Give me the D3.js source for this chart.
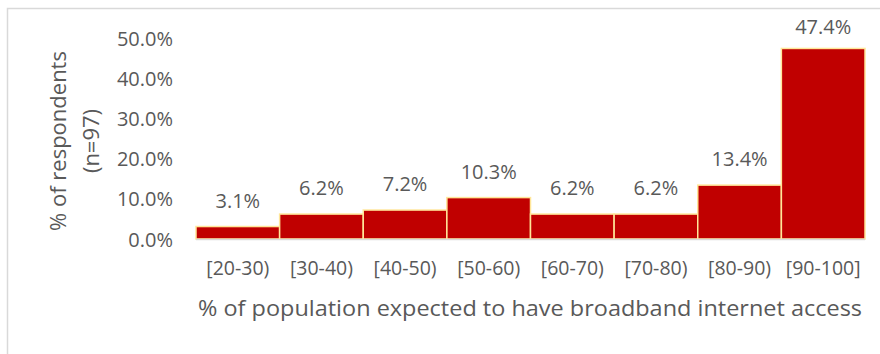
<!DOCTYPE html>
<html>
<head>
<meta charset="utf-8">
<script src="https://cdn.jsdelivr.net/npm/d3@7"></script>
<style>
  html, body { margin: 0; padding: 0; background: #fff; }
  svg { display: block; }
  text { font-family: "Open Sans", "Noto Sans", sans-serif; fill: #595959; }
</style>
</head>
<body>
<svg id="chart" width="880" height="354"></svg>
<script>
const categories = ["[20-30)", "[30-40)", "[40-50)", "[50-60)", "[60-70)", "[70-80)", "[80-90)", "[90-100]"];
const values = [3.1, 6.2, 7.2, 10.3, 6.2, 6.2, 13.4, 47.4];
const yTicks = [0, 10, 20, 30, 40, 50];
const yTitleLines = ["% of respondents", "(n=97)"];
const xTitle = "% of population expected to have broadband internet access";

const svg = d3.select("#chart");
const W = 880, H = 354;
const plot = { left: 196, right: 865, top: 38, bottom: 239 };

// chart border
svg.append("rect")
  .attr("x", 7.5).attr("y", 8.5)
  .attr("width", W + 10).attr("height", H + 10)
  .attr("fill", "none").attr("stroke", "#d9d9d9").attr("stroke-width", 1.5);

const x = d3.scaleBand().domain(categories).range([plot.left, plot.right]).padding(0);
const y = d3.scaleLinear().domain([0, 50]).range([plot.bottom, plot.top]);

// y axis tick labels
const yAxis = d3.axisLeft(y).tickValues(yTicks).tickFormat(d => d.toFixed(1) + "%").tickSize(0).tickPadding(0);
const gy = svg.append("g").attr("transform", `translate(173,0)`).call(yAxis);
gy.select(".domain").remove();
gy.selectAll("text").style("font-size", "20px").attr("fill", "#595959")
  .style("font-family", "'Open Sans', sans-serif").attr("dy", "0.35em");

// bars
svg.append("g").selectAll("rect").data(values).join("rect")
  .attr("x", (d, i) => x(categories[i]))
  .attr("y", d => y(d))
  .attr("width", x.bandwidth())
  .attr("height", d => y(0) - y(d))
  .attr("fill", "#c00000")
  .attr("stroke", "#ffe699")
  .attr("stroke-width", 1.5);

// baseline
svg.append("line")
  .attr("x1", plot.left).attr("x2", plot.right)
  .attr("y1", y(0) + 0.5).attr("y2", y(0) + 0.5)
  .attr("stroke", "#d9d9d9").attr("stroke-width", 1.5);

// data labels
svg.append("g").selectAll("text").data(values).join("text")
  .attr("x", (d, i) => x(categories[i]) + x.bandwidth() / 2)
  .attr("y", d => Math.max(y(d) - 19, 34))
  .attr("text-anchor", "middle")
  .style("font-size", "20px")
  .text(d => d.toFixed(1) + "%");

// x axis labels
const xAxis = d3.axisBottom(x).tickSize(0).tickPadding(0);
const gx = svg.append("g").attr("transform", `translate(0,${plot.bottom})`).call(xAxis);
gx.select(".domain").remove();
gx.selectAll("text").style("font-size", "19.5px").attr("fill", "#595959")
  .style("font-family", "'Open Sans', sans-serif").attr("y", 36).attr("dy", null);

// x title
svg.append("text")
  .attr("x", 530)
  .attr("y", 316)
  .attr("text-anchor", "middle")
  .attr("textLength", 664)
  .attr("lengthAdjust", "spacingAndGlyphs")
  .style("font-size", "22px")
  .text(xTitle);

// y title
const yt = svg.append("text")
  .attr("transform", `translate(66,141) rotate(-90)`)
  .attr("text-anchor", "middle")
  .style("font-size", "22px");
yTitleLines.forEach((t, i) => {
  yt.append("tspan").attr("x", 0).attr("dy", i === 0 ? 0 : 33).text(t);
});
</script>
</body>
</html>
